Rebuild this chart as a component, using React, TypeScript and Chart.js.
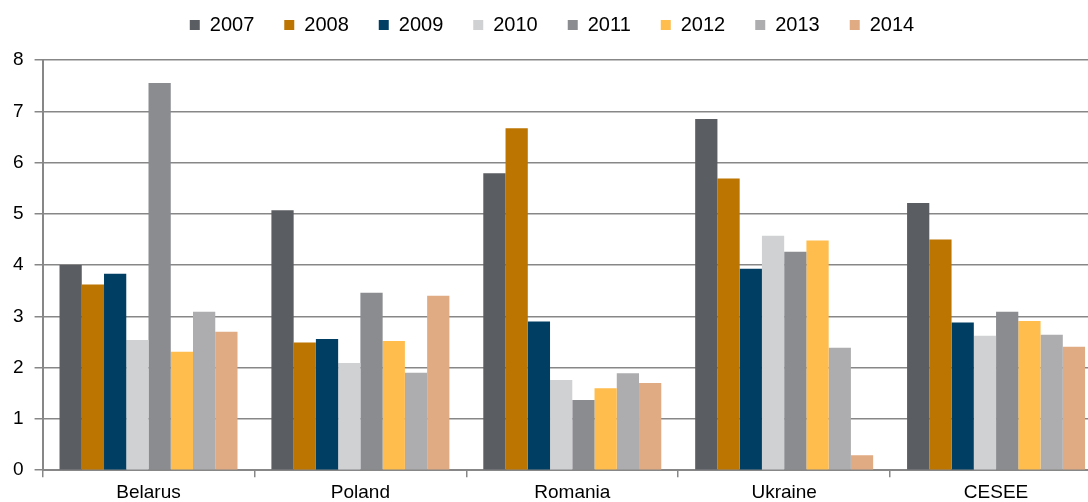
import React, { useEffect, useRef } from "react";
import { Chart, registerables } from "chart.js";

Chart.register(...registerables);

const categories = ["Belarus", "Poland", "Romania", "Ukraine", "CESEE"];
const years = ["2007", "2008", "2009", "2010", "2011", "2012", "2013", "2014"];
const v2007 = [4.0, 5.07, 5.79, 6.85, 5.21];
const v2008 = [3.62, 2.49, 6.67, 5.69, 4.5];
const v2009 = [3.83, 2.56, 2.9, 3.93, 2.88];
const v2010 = [2.54, 2.09, 1.76, 4.57, 2.62];
const v2011 = [7.55, 3.46, 1.37, 4.26, 3.09];
const v2012 = [2.31, 2.52, 1.6, 4.48, 2.91];
const v2013 = [3.09, 1.9, 1.89, 2.39, 2.64];
const v2014 = [2.7, 3.4, 1.7, 0.29, 2.41];
const colors = ["#5a5d62", "#bb7500", "#003f63", "#d0d1d3", "#8a8c90", "#ffbd4e", "#adadaf", "#e0ab82"];

const CANVAS_W = 1102;
const CANVAS_H = 508;

export default function App() {
  const ref = useRef<HTMLCanvasElement>(null);
  useEffect(() => {
    if (!ref.current) return;
    const series = [v2007, v2008, v2009, v2010, v2011, v2012, v2013, v2014];
    const family = "'Liberation Sans', Arial, sans-serif";
    const tickFont = { family, size: 19 };
    const legendFont = { family, size: 20 };
    const gridColor = "#878787";
    const chart = new Chart(ref.current, {
      type: "bar",
      data: {
        labels: categories,
        datasets: series.map((d, i) => ({
          label: years[i],
          data: d,
          backgroundColor: colors[i],
          borderWidth: 0,
          categoryPercentage: 0.84,
          barPercentage: 1,
        })),
      },
      options: {
        animation: false,
        responsive: false,
        maintainAspectRatio: false,
        layout: { padding: { top: -15, right: 0, left: 2, bottom: 0 } },
        plugins: {
          tooltip: { enabled: false },
          legend: {
            position: "top",
            labels: {
              boxWidth: 10,
              boxHeight: 10,
              padding: 30,
              color: "#000",
              font: legendFont,
            },
          },
          title: {
            display: true,
            text: " ",
            weight: 100,
            font: { size: 10 },
            padding: { top: 0, bottom: 3 },
          },
        },
        scales: {
          x: {
            offset: true,
            grid: {
              display: true,
              offset: true,
              drawOnChartArea: false,
              drawTicks: true,
              tickLength: 7,
              color: gridColor,
              lineWidth: 1.5,
            },
            border: { display: true, color: gridColor, width: 2 },
            ticks: { color: "#000", font: tickFont, padding: 4 },
          },
          y: {
            min: 0,
            max: 8,
            ticks: { stepSize: 1, color: "#000", font: tickFont, padding: 11 },
            grid: { color: gridColor, lineWidth: 1.5, tickLength: 8 },
            border: { display: true, color: gridColor, width: 2 },
          },
        },
      },
    });
    return () => chart.destroy();
  }, []);
  return (
    <div style={{ position: "fixed", left: 0, top: 0, width: 1088, height: 502, overflow: "hidden", background: "#fff" }}>
      <canvas ref={ref} width={CANVAS_W} height={CANVAS_H} style={{ width: CANVAS_W, height: CANVAS_H, display: "block" }} />
    </div>
  );
}
